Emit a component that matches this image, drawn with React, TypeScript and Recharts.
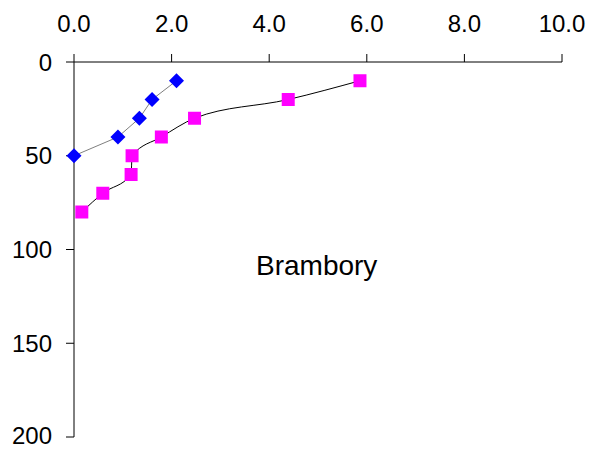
import { LineChart, Line, XAxis, YAxis } from 'recharts';

// hodnoty (x = obsah, y = hloubka)
const blueX = [0.0, 0.9, 1.34, 1.6, 2.1];
const blueDepth = [50, 40, 30, 20, 10];

const pinkX = [0.16, 0.59, 1.17, 1.19, 1.79, 2.47, 4.39, 5.86];
const pinkDepth = [80, 70, 60, 50, 40, 30, 20, 10];

const xTicks = [0, 2, 4, 6, 8, 10];
const yTicks = [0, 50, 100, 150, 200];

const blueData = blueX.map((x, i) => ({ x, y: blueDepth[i] }));
const pinkData = pinkX.map((x, i) => ({ x, y: pinkDepth[i] }));

const font = 'Liberation Sans, Arial, sans-serif';

const Diamond = (props: any) => {
  const { cx, cy } = props;
  if (cx == null || cy == null) return null;
  const r = 7.5;
  return (
    <path
      d={`M${cx},${cy - r}L${cx + r},${cy}L${cx},${cy + r}L${cx - r},${cy}Z`}
      fill="#0000ff"
      stroke="none"
    />
  );
};

const Square = (props: any) => {
  const { cx, cy } = props;
  if (cx == null || cy == null) return null;
  const s = 13;
  return <rect x={cx - s / 2} y={cy - s / 2} width={s} height={s} fill="#ff00ff" stroke="none" />;
};

export default function App() {
  return (
    <div style={{ position: 'absolute', left: 0, top: 0, width: 592, height: 449, background: '#fff' }}>
      <LineChart width={592} height={449} margin={{ top: 0, right: 30, bottom: 12, left: 0 }}>
        <XAxis
          type="number"
          dataKey="x"
          orientation="top"
          domain={[0, 10]}
          ticks={xTicks}
          tickFormatter={(v: number) => v.toFixed(1)}
          height={62}
          tickSize={8}
          tickMargin={22}
          axisLine={{ stroke: '#000' }}
          tickLine={{ stroke: '#000' }}
          tick={{ fill: '#000', fontSize: 24, fontFamily: font }}
        />
        <YAxis
          type="number"
          dataKey="y"
          reversed
          domain={[0, 200]}
          ticks={yTicks}
          width={74}
          tickSize={8}
          tickMargin={14}
          axisLine={{ stroke: '#000' }}
          tickLine={{ stroke: '#000' }}
          tick={{ fill: '#000', fontSize: 24, fontFamily: font }}
        />
        <Line
          data={blueData}
          dataKey="y"
          type="linear"
          stroke="#808080"
          strokeWidth={1}
          dot={<Diamond />}
          activeDot={false}
          isAnimationActive={false}
        />
        <Line
          data={pinkData}
          dataKey="y"
          type="monotone"
          stroke="#000"
          strokeWidth={1}
          dot={<Square />}
          activeDot={false}
          isAnimationActive={false}
        />
      </LineChart>
      <div
        style={{
          position: 'absolute',
          left: 256,
          top: 249,
          fontFamily: font,
          fontSize: 28,
          lineHeight: '34px',
          color: '#000',
          whiteSpace: 'nowrap',
        }}
      >
        Brambory
      </div>
    </div>
  );
}
